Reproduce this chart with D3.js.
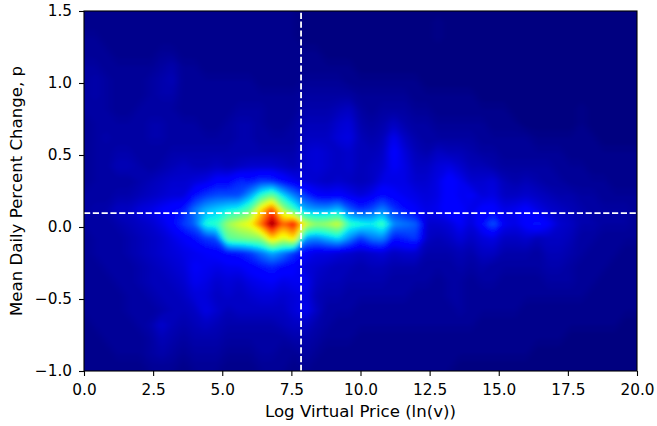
<!DOCTYPE html>
<html>
<head>
<meta charset="utf-8">
<script src="https://cdn.jsdelivr.net/npm/d3@7"></script>
<style>
html, body { margin: 0; padding: 0; background: #fff; }
svg { display: block; }
text { font-family: "DejaVu Sans", sans-serif; fill: #000; }
</style>
</head>
<body>
<script>
// density, in hundredths of the colour range
// columns are ln(v) = 0, 0.4, ... 20; rows run from the top of the plot down
var priceStep = 0.4;
var changeTop = 1.52;
var changeStep = 0.1;
var densityRows = [
/* 1.52*/ [1,1,1,1,1,1,1,1,1,1, 1,1,1,1,1,1,1,1,1,1, 0,0,0,0,0,0,0,0,0,0, 0,0,0,0,0,0,0,0,0,0, 0,0,0,0,0,0,0,0,0,0, 0],
/* 1.42*/ [1,1,1,1,1,1,1,1,1,1, 1,1,1,1,1,1,1,1,1,1, 0,0,0,0,0,0,0,0,0,0, 0,0,1,0,0,0,0,0,0,0, 0,0,0,0,0,0,0,0,0,0, 0],
/* 1.32*/ [2,2,1,1,1,1,1,1,1,1, 1,1,1,1,1,1,1,1,1,1, 0,0,0,0,0,0,0,0,0,0, 0,0,1,0,0,0,0,0,0,0, 0,0,0,0,0,0,0,0,0,0, 0],
/* 1.22*/ [2,2,2,1,1,1,1,2,2,1, 1,1,1,1,1,1,1,1,1,1, 1,1,0,0,0,0,0,0,0,0, 0,0,0,0,0,0,0,0,0,0, 0,0,0,0,0,0,0,0,0,0, 0],
/* 1.12*/ [3,3,2,2,2,2,2,3,4,2, 2,1,1,1,1,1,1,1,1,1, 1,1,1,1,1,0,0,0,0,0, 0,0,0,0,0,0,0,0,0,0, 0,0,0,0,0,0,0,0,0,0, 0],
/* 1.02*/ [3,4,3,2,2,2,3,4,5,2, 2,2,2,2,2,2,1,1,1,1, 2,2,2,2,1,1,1,1,1,1, 1,0,0,0,0,0,0,0,0,0, 0,0,0,0,0,0,0,0,0,0, 0],
/* 0.92*/ [3,4,3,2,2,2,3,4,4,2, 2,2,2,2,2,2,2,2,2,2, 3,3,3,3,3,2,2,2,2,2, 1,1,1,1,1,1,0,0,0,0, 0,0,0,0,0,0,0,0,0,0, 0],
/* 0.82*/ [3,3,3,2,2,3,3,3,3,2, 2,2,2,2,3,3,3,2,2,2, 4,4,4,5,6,3,2,3,3,3, 2,2,1,1,1,1,1,1,1,0, 0,0,0,0,0,1,0,0,0,0, 0],
/* 0.72*/ [2,3,3,3,3,3,4,4,3,3, 3,2,2,3,4,4,3,2,2,3, 5,5,5,7,8,4,3,4,6,4, 3,3,2,2,2,2,2,1,1,1, 0,0,0,0,0,1,0,0,0,0, 0],
/* 0.62*/ [2,3,4,3,3,3,4,4,3,3, 3,3,3,3,4,4,3,3,3,3, 6,6,6,8,9,5,4,5,10,6, 4,3,3,3,3,3,2,2,2,2, 2,1,1,1,1,1,1,0,0,0, 0],
/* 0.52*/ [2,3,3,4,4,3,3,3,4,4, 4,4,4,4,4,4,4,4,4,4, 7,8,7,6,7,5,5,6,12,8, 5,4,6,5,5,4,3,3,2,2, 2,2,2,2,1,1,1,1,1,1, 1],
/* 0.42*/ [2,3,3,5,5,4,3,4,5,6, 5,5,6,5,6,7,7,7,6,5, 7,8,7,6,7,5,6,7,11,9, 6,6,8,9,7,5,5,4,3,3, 3,3,3,2,2,2,1,1,1,1, 1],
/* 0.32*/ [2,3,3,3,3,4,5,6,7,7, 8,9,12,12,16,15,18,17,13,10, 8,7,6,7,6,5,6,9,9,9, 7,7,9,13,10,7,7,8,5,4, 5,4,3,3,2,2,2,2,1,1, 1],
/* 0.22*/ [3,3,3,4,4,5,6,7,8,8, 14,18,20,20,20,28,40,48,34,25, 18,12,11,12,10,8,10,14,12,10, 9,8,9,13,10,11,8,9,6,6, 7,6,5,4,4,3,3,2,2,2, 2],
/* 0.12*/ [3,4,4,6,6,8,9,11,13,15, 24,30,33,36,38,46,68,85,55,42, 30,28,28,32,22,17,20,26,18,14, 11,9,10,13,12,9,12,12,9,10, 12,9,7,6,5,4,3,3,3,3, 2],
/* 0.02*/ [3,3,3,4,5,6,7,9,12,18, 22,38,40,54,60,64,80,100,80,90, 60,52,54,60,40,38,36,42,26,24, 22,7,7,8,11,8,13,21,10,9, 12,15,11,7,6,4,4,3,3,3, 2],
/*-0.08*/ [2,3,3,3,4,5,6,7,9,11, 14,18,20,46,48,50,52,70,60,68, 28,26,30,34,26,18,24,26,14,16, 18,6,5,6,8,6,8,9,6,6, 7,5,6,6,5,3,3,2,2,2, 2],
/*-0.18*/ [2,3,3,3,4,5,6,7,8,9, 10,11,12,14,15,18,24,30,25,18, 11,9,9,8,7,6,7,8,6,7, 7,4,4,4,5,4,6,6,4,4, 4,3,5,5,4,3,2,2,2,1, 1],
/*-0.28*/ [2,2,3,3,3,4,5,6,7,8, 11,10,9,10,10,12,14,16,13,12, 8,7,6,5,5,4,5,5,4,4, 4,3,3,3,4,3,4,3,3,3, 3,3,4,4,3,2,2,2,1,1, 1],
/*-0.38*/ [2,2,2,3,3,4,5,5,6,7, 10,9,7,8,7,9,10,11,9,10, 10,6,5,5,4,4,4,4,3,3, 3,3,2,3,3,2,3,3,2,2, 2,2,3,3,3,2,2,1,1,1, 1],
/*-0.48*/ [2,2,2,2,3,3,4,5,5,6, 8,8,6,7,6,7,8,8,7,8, 9,5,4,4,3,3,3,3,3,3, 2,2,2,3,3,2,2,2,2,2, 2,2,2,2,2,2,1,1,1,1, 1],
/*-0.58*/ [2,2,2,2,3,3,3,4,5,5, 6,9,7,5,6,6,6,6,6,8, 10,6,3,3,3,2,2,2,2,2, 2,2,2,2,3,2,2,2,2,2, 1,1,1,1,1,1,1,1,1,1, 1],
/*-0.68*/ [1,2,2,2,2,3,4,7,5,4, 5,6,5,4,4,4,4,4,5,6, 6,4,3,2,2,2,2,2,2,2, 2,2,2,2,2,2,1,1,1,1, 1,1,1,1,1,1,1,1,1,0, 0],
/*-0.78*/ [1,1,2,2,2,2,3,5,4,3, 4,4,4,3,3,3,3,3,3,4, 4,3,2,2,2,1,1,1,1,1, 1,1,1,1,1,1,1,1,1,1, 1,1,1,1,0,0,0,0,0,0, 0],
/*-0.88*/ [1,1,1,2,2,2,3,4,3,2, 3,3,3,2,2,2,3,3,2,2, 3,2,1,1,1,1,1,1,1,1, 1,1,1,1,1,1,1,1,1,1, 1,0,0,0,0,0,0,0,0,0, 0],
/*-0.98*/ [1,1,1,1,1,1,2,2,2,1, 2,2,2,1,1,1,2,2,2,1, 2,1,1,1,1,1,1,1,1,1, 1,1,1,1,0,0,0,0,0,0, 0,0,0,0,0,0,0,0,0,0, 0],
/*-1.08*/ [1,1,1,1,1,1,2,2,2,1, 2,2,2,1,1,1,2,2,2,1, 2,1,1,1,1,1,1,1,1,1, 1,1,1,1,0,0,0,0,0,0, 0,0,0,0,0,0,0,0,0,0, 0]
];
var xTicks = [0, 2.5, 5, 7.5, 10, 12.5, 15, 17.5, 20];
var yTicks = [-1, -0.5, 0, 0.5, 1, 1.5];
var jetStops = [0, 11, 12.5, 34, 37.5, 50, 64, 66, 89, 91, 100];
var jetColors = ["#000080", "#0000ff", "#0000ff", "#00dbff", "#14ffde", "#7bff7b", "#f7ff08", "#fff500", "#ff1600", "#e80000", "#800000"];
var meanPrice = 7.85;
var meanChange = 0.097;

var width = 657;
var height = 426;
var margin = { top: 11, right: 20, bottom: 55, left: 84 };

var x = d3.scaleLinear().domain([0, 20]).range([margin.left, width - margin.right]);
var y = d3.scaleLinear().domain([-1, 1.5]).range([height - margin.bottom, margin.top]);
var color = d3.scaleLinear().domain(jetStops).range(jetColors).interpolate(d3.interpolateRgb).clamp(true);

var svg = d3.select("body").append("svg").attr("width", width).attr("height", height);
var defs = svg.append("defs");
defs.append("clipPath").attr("id", "plot-clip").append("rect")
    .attr("x", x(0)).attr("y", y(1.5))
    .attr("width", x(20) - x(0)).attr("height", y(-1) - y(1.5));
defs.append("filter").attr("id", "soften")
    .attr("filterUnits", "userSpaceOnUse")
    .attr("x", 0).attr("y", 0).attr("width", width).attr("height", height)
    .append("feGaussianBlur").attr("stdDeviation", "2.5 1.8");

var columns = densityRows[0].length;
var rows = densityRows.length;
var thresholds = d3.range(0, 100.5, 0.5);
var contours = d3.contours().size([columns, rows]).thresholds(thresholds)(densityRows.flat());

// grid value i sits at i + 0.5 in contour coordinates
var gridPath = d3.geoPath(d3.geoTransform({
    point: function (gx, gy) {
        this.stream.point(x((gx - 0.5) * priceStep), y(changeTop - (gy - 0.5) * changeStep));
    }
}));

var plot = svg.append("g").attr("clip-path", "url(#plot-clip)");
var heat = plot.append("g").attr("filter", "url(#soften)");
heat.append("rect").attr("x", 0).attr("y", 0).attr("width", width).attr("height", height).attr("fill", color(0));
heat.selectAll("path").data(contours).join("path")
    .attr("d", gridPath)
    .attr("fill", d => color(d.value));

var dashedLine = d3.line().x(d => x(d[0])).y(d => y(d[1]));
plot.append("path")
    .attr("d", dashedLine([[meanPrice, -1], [meanPrice, 1.5]]))
    .attr("fill", "none").attr("stroke", "#fff").attr("stroke-width", 1.8).attr("stroke-dasharray", "6.2,2.6");
plot.append("path")
    .attr("d", dashedLine([[0, meanChange], [20, meanChange]]))
    .attr("fill", "none").attr("stroke", "#fff").attr("stroke-width", 1.8).attr("stroke-dasharray", "6.2,2.6");

svg.append("rect")
    .attr("x", x(0)).attr("y", y(1.5))
    .attr("width", x(20) - x(0)).attr("height", y(-1) - y(1.5))
    .attr("fill", "none").attr("stroke", "#000").attr("stroke-width", 1.1);

var xAxis = svg.append("g")
    .attr("transform", "translate(0," + y(-1) + ")")
    .call(d3.axisBottom(x).tickValues(xTicks).tickFormat(d3.format(".1f")).tickSizeOuter(0).tickSize(5).tickPadding(8));
var yAxis = svg.append("g")
    .attr("transform", "translate(" + x(0) + ",0)")
    .call(d3.axisLeft(y).tickValues(yTicks).tickFormat(d => d3.format(".1f")(d).replace("-", "\u2212")).tickSizeOuter(0).tickSize(5).tickPadding(7));
for (var axis of [xAxis, yAxis]) {
    axis.select(".domain").remove();
    axis.selectAll("line").attr("stroke", "#000").attr("stroke-width", 1.1);
    axis.selectAll("text").attr("font-size", 15.3).attr("font-family", "DejaVu Sans");
}

svg.append("text")
    .attr("x", (x(0) + x(20)) / 2).attr("y", 417)
    .attr("text-anchor", "middle").attr("font-size", 16.6)
    .text("Log Virtual Price (ln(v))");
svg.append("text")
    .attr("transform", "translate(22," + (y(-1) + y(1.5)) / 2 + ") rotate(-90)")
    .attr("text-anchor", "middle").attr("font-size", 16.6)
    .text("Mean Daily Percent Change, p");
</script>
</body>
</html>
